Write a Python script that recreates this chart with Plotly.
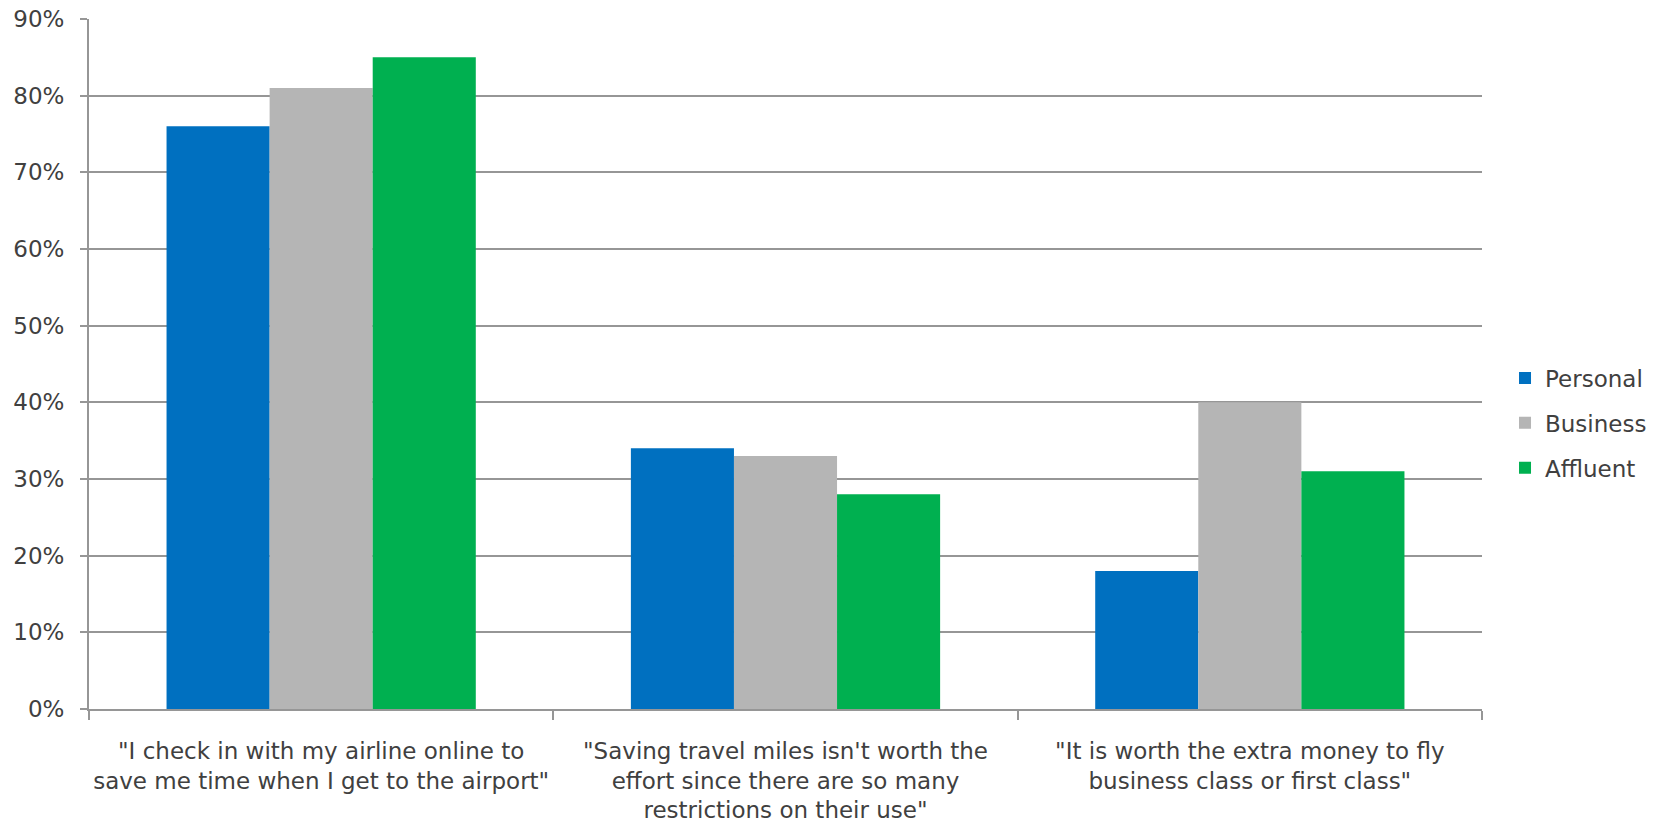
import plotly.graph_objects as go

categories = [
    "\"I check in with my airline online to<br>save me time when I get to the airport\"",
    "\"Saving travel miles isn't worth the<br>effort since there are so many<br>restrictions on their use\"",
    "\"It is worth the extra money to fly<br>business class or first class\"",
]
personal = [0.76, 0.34, 0.18]
business = [0.81, 0.33, 0.40]
affluent = [0.85, 0.28, 0.31]
y_ticks = [0, 0.1, 0.2, 0.3, 0.4, 0.5, 0.6, 0.7, 0.8, 0.9]

series = [
    ("Personal", personal, "#0070C0"),
    ("Business", business, "#B5B5B5"),
    ("Affluent", affluent, "#00B050"),
]

fig = go.Figure()
for name, vals, color in series:
    fig.add_trace(go.Bar(
        x=categories, y=vals, name=name, legendgroup=name,
        marker=dict(color=color, line=dict(width=0)),
    ))

font_family = "DejaVu Sans, Liberation Sans, Arial, sans-serif"
fig.update_layout(
    width=1663, height=824,
    margin=dict(l=89, r=181, t=19, b=115, autoexpand=False),
    paper_bgcolor="white", plot_bgcolor="white",
    barmode="group", bargap=0.334, bargroupgap=0,
    font=dict(family=font_family, size=23, color="#404040"),
    legend=dict(
        xref="container", yref="container",
        x=0.905, xanchor="left",
        y=0.4867, yanchor="middle",
        font=dict(size=23, color="#404040"),
        tracegroupgap=12,
        itemwidth=30,
    ),
    xaxis=dict(
        automargin=False,
        tickangle=0,
        showgrid=False,
        showline=True, linecolor="#969696", linewidth=2,
        ticks="outside", tickson="boundaries", ticklen=9,
        tickcolor="#969696", tickwidth=2,
        tickfont=dict(size=23, color="#404040"),
        ticklabelstandoff=20,
    ),
    yaxis=dict(
        automargin=False,
        range=[0, 0.9],
        tickvals=y_ticks, tickformat=".0%",
        showgrid=True, gridcolor="#969696", gridwidth=2,
        showline=True, linecolor="#969696", linewidth=2,
        ticks="outside", ticklen=7, tickcolor="#969696", tickwidth=2,
        tickfont=dict(size=23, color="#404040"),
        ticklabelstandoff=11,
        zeroline=False,
    ),
)

fig.write_html("out.html")
